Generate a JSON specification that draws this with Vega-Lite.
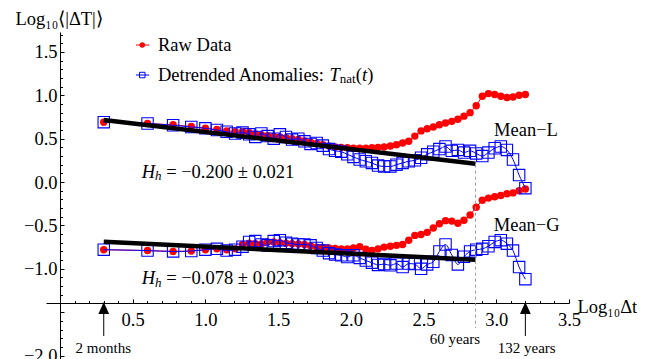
{
  "$schema": "https://vega.github.io/schema/vega-lite/v6.json",
  "width": 523,
  "height": 327,
  "autosize": {"type": "none"},
  "padding": {"left": 46, "top": 32, "right": 79, "bottom": 0},
  "background": "white",
  "config": {
    "view": {"stroke": null},
    "axis": {"labelFont": "Liberation Serif", "titleFont": "Liberation Serif", "labelFontSize": 18.5, "titleFontSize": 18.5, "titleFontWeight": "normal", "labelColor": "black", "titleColor": "black", "domainColor": "black", "tickColor": "black", "grid": false, "labelFlush": false, "labelOverlap": false, "domainWidth": 1, "tickWidth": 1},
    "text": {"font": "Liberation Serif"}
  },
  "datasets": {
    "raw": [
      {"x":0.301,"y":0.69,"c":"L"},{"x":0.602,"y":0.675,"c":"L"},{"x":0.778,"y":0.66,"c":"L"},{"x":0.903,"y":0.64,"c":"L"},{"x":1.0,"y":0.62,"c":"L"},{"x":1.079,"y":0.605,"c":"L"},{"x":1.146,"y":0.59,"c":"L"},{"x":1.204,"y":0.58,"c":"L"},{"x":1.255,"y":0.58,"c":"L"},{"x":1.301,"y":0.57,"c":"L"},{"x":1.343,"y":0.555,"c":"L"},{"x":1.385,"y":0.545,"c":"L"},{"x":1.428,"y":0.535,"c":"L"},{"x":1.47,"y":0.525,"c":"L"},{"x":1.512,"y":0.52,"c":"L"},{"x":1.554,"y":0.51,"c":"L"},{"x":1.596,"y":0.5,"c":"L"},{"x":1.639,"y":0.49,"c":"L"},{"x":1.681,"y":0.475,"c":"L"},{"x":1.723,"y":0.46,"c":"L"},{"x":1.765,"y":0.445,"c":"L"},{"x":1.807,"y":0.43,"c":"L"},{"x":1.85,"y":0.415,"c":"L"},{"x":1.892,"y":0.405,"c":"L"},{"x":1.934,"y":0.4,"c":"L"},{"x":1.976,"y":0.395,"c":"L"},{"x":2.018,"y":0.39,"c":"L"},{"x":2.061,"y":0.39,"c":"L"},{"x":2.103,"y":0.39,"c":"L"},{"x":2.145,"y":0.395,"c":"L"},{"x":2.187,"y":0.4,"c":"L"},{"x":2.229,"y":0.405,"c":"L"},{"x":2.272,"y":0.415,"c":"L"},{"x":2.314,"y":0.43,"c":"L"},{"x":2.356,"y":0.45,"c":"L"},{"x":2.398,"y":0.47,"c":"L"},{"x":2.44,"y":0.53,"c":"L"},{"x":2.483,"y":0.59,"c":"L"},{"x":2.525,"y":0.615,"c":"L"},{"x":2.567,"y":0.635,"c":"L"},{"x":2.609,"y":0.66,"c":"L"},{"x":2.651,"y":0.68,"c":"L"},{"x":2.694,"y":0.7,"c":"L"},{"x":2.736,"y":0.725,"c":"L"},{"x":2.778,"y":0.76,"c":"L"},{"x":2.82,"y":0.8,"c":"L"},{"x":2.862,"y":0.88,"c":"L"},{"x":2.904,"y":0.99,"c":"L"},{"x":2.946,"y":1.02,"c":"L"},{"x":2.989,"y":1.01,"c":"L"},{"x":3.031,"y":0.99,"c":"L"},{"x":3.073,"y":0.975,"c":"L"},{"x":3.115,"y":0.98,"c":"L"},{"x":3.157,"y":1.0,"c":"L"},{"x":3.2,"y":1.01,"c":"L"},
      {"x":0.301,"y":-0.78,"c":"G"},{"x":0.602,"y":-0.79,"c":"G"},{"x":0.778,"y":-0.8,"c":"G"},{"x":0.903,"y":-0.795,"c":"G"},{"x":1.0,"y":-0.78,"c":"G"},{"x":1.079,"y":-0.77,"c":"G"},{"x":1.146,"y":-0.78,"c":"G"},{"x":1.204,"y":-0.77,"c":"G"},{"x":1.255,"y":-0.72,"c":"G"},{"x":1.301,"y":-0.705,"c":"G"},{"x":1.343,"y":-0.71,"c":"G"},{"x":1.385,"y":-0.715,"c":"G"},{"x":1.428,"y":-0.69,"c":"G"},{"x":1.47,"y":-0.69,"c":"G"},{"x":1.512,"y":-0.7,"c":"G"},{"x":1.554,"y":-0.705,"c":"G"},{"x":1.596,"y":-0.71,"c":"G"},{"x":1.639,"y":-0.715,"c":"G"},{"x":1.681,"y":-0.72,"c":"G"},{"x":1.723,"y":-0.735,"c":"G"},{"x":1.765,"y":-0.75,"c":"G"},{"x":1.807,"y":-0.755,"c":"G"},{"x":1.85,"y":-0.76,"c":"G"},{"x":1.892,"y":-0.765,"c":"G"},{"x":1.934,"y":-0.77,"c":"G"},{"x":1.976,"y":-0.77,"c":"G"},{"x":2.018,"y":-0.76,"c":"G"},{"x":2.061,"y":-0.745,"c":"G"},{"x":2.103,"y":-0.775,"c":"G"},{"x":2.145,"y":-0.79,"c":"G"},{"x":2.187,"y":-0.77,"c":"G"},{"x":2.229,"y":-0.75,"c":"G"},{"x":2.272,"y":-0.74,"c":"G"},{"x":2.314,"y":-0.73,"c":"G"},{"x":2.356,"y":-0.72,"c":"G"},{"x":2.398,"y":-0.67,"c":"G"},{"x":2.44,"y":-0.615,"c":"G"},{"x":2.483,"y":-0.605,"c":"G"},{"x":2.525,"y":-0.58,"c":"G"},{"x":2.567,"y":-0.53,"c":"G"},{"x":2.609,"y":-0.48,"c":"G"},{"x":2.651,"y":-0.445,"c":"G"},{"x":2.694,"y":-0.45,"c":"G"},{"x":2.736,"y":-0.475,"c":"G"},{"x":2.778,"y":-0.44,"c":"G"},{"x":2.82,"y":-0.38,"c":"G"},{"x":2.862,"y":-0.29,"c":"G"},{"x":2.904,"y":-0.21,"c":"G"},{"x":2.946,"y":-0.185,"c":"G"},{"x":2.989,"y":-0.17,"c":"G"},{"x":3.031,"y":-0.155,"c":"G"},{"x":3.073,"y":-0.135,"c":"G"},{"x":3.115,"y":-0.125,"c":"G"},{"x":3.157,"y":-0.1,"c":"G"},{"x":3.2,"y":-0.08,"c":"G"}
    ],
    "det": [
      {"x":0.301,"y":0.69,"c":"L"},{"x":0.602,"y":0.675,"c":"L"},{"x":0.778,"y":0.655,"c":"L"},{"x":0.903,"y":0.635,"c":"L"},{"x":1.0,"y":0.62,"c":"L"},{"x":1.079,"y":0.6,"c":"L"},{"x":1.146,"y":0.58,"c":"L"},{"x":1.204,"y":0.56,"c":"L"},{"x":1.255,"y":0.57,"c":"L"},{"x":1.301,"y":0.55,"c":"L"},{"x":1.343,"y":0.52,"c":"L"},{"x":1.385,"y":0.56,"c":"L"},{"x":1.428,"y":0.53,"c":"L"},{"x":1.47,"y":0.5,"c":"L"},{"x":1.512,"y":0.55,"c":"L"},{"x":1.554,"y":0.52,"c":"L"},{"x":1.596,"y":0.49,"c":"L"},{"x":1.639,"y":0.5,"c":"L"},{"x":1.681,"y":0.47,"c":"L"},{"x":1.723,"y":0.44,"c":"L"},{"x":1.765,"y":0.45,"c":"L"},{"x":1.807,"y":0.42,"c":"L"},{"x":1.85,"y":0.38,"c":"L"},{"x":1.892,"y":0.36,"c":"L"},{"x":1.934,"y":0.35,"c":"L"},{"x":1.976,"y":0.32,"c":"L"},{"x":2.018,"y":0.29,"c":"L"},{"x":2.061,"y":0.26,"c":"L"},{"x":2.103,"y":0.24,"c":"L"},{"x":2.145,"y":0.22,"c":"L"},{"x":2.187,"y":0.19,"c":"L"},{"x":2.229,"y":0.18,"c":"L"},{"x":2.272,"y":0.18,"c":"L"},{"x":2.314,"y":0.2,"c":"L"},{"x":2.356,"y":0.22,"c":"L"},{"x":2.398,"y":0.24,"c":"L"},{"x":2.44,"y":0.25,"c":"L"},{"x":2.483,"y":0.28,"c":"L"},{"x":2.525,"y":0.32,"c":"L"},{"x":2.567,"y":0.35,"c":"L"},{"x":2.609,"y":0.38,"c":"L"},{"x":2.651,"y":0.41,"c":"L"},{"x":2.694,"y":0.36,"c":"L"},{"x":2.736,"y":0.37,"c":"L"},{"x":2.778,"y":0.34,"c":"L"},{"x":2.82,"y":0.36,"c":"L"},{"x":2.862,"y":0.33,"c":"L"},{"x":2.904,"y":0.3,"c":"L"},{"x":2.946,"y":0.34,"c":"L"},{"x":2.989,"y":0.39,"c":"L"},{"x":3.031,"y":0.41,"c":"L"},{"x":3.073,"y":0.37,"c":"L"},{"x":3.115,"y":0.26,"c":"L"},{"x":3.157,"y":0.08,"c":"L"},{"x":3.2,"y":-0.07,"c":"L"},
      {"x":0.301,"y":-0.78,"c":"G"},{"x":0.602,"y":-0.79,"c":"G"},{"x":0.778,"y":-0.8,"c":"G"},{"x":0.903,"y":-0.795,"c":"G"},{"x":1.0,"y":-0.78,"c":"G"},{"x":1.079,"y":-0.77,"c":"G"},{"x":1.146,"y":-0.79,"c":"G"},{"x":1.204,"y":-0.78,"c":"G"},{"x":1.255,"y":-0.745,"c":"G"},{"x":1.301,"y":-0.69,"c":"G"},{"x":1.343,"y":-0.68,"c":"G"},{"x":1.385,"y":-0.72,"c":"G"},{"x":1.428,"y":-0.73,"c":"G"},{"x":1.47,"y":-0.68,"c":"G"},{"x":1.512,"y":-0.67,"c":"G"},{"x":1.554,"y":-0.7,"c":"G"},{"x":1.596,"y":-0.71,"c":"G"},{"x":1.639,"y":-0.72,"c":"G"},{"x":1.681,"y":-0.72,"c":"G"},{"x":1.723,"y":-0.73,"c":"G"},{"x":1.765,"y":-0.76,"c":"G"},{"x":1.807,"y":-0.79,"c":"G"},{"x":1.85,"y":-0.82,"c":"G"},{"x":1.892,"y":-0.835,"c":"G"},{"x":1.934,"y":-0.845,"c":"G"},{"x":1.976,"y":-0.865,"c":"G"},{"x":2.018,"y":-0.845,"c":"G"},{"x":2.061,"y":-0.875,"c":"G"},{"x":2.103,"y":-0.905,"c":"G"},{"x":2.145,"y":-0.93,"c":"G"},{"x":2.187,"y":-0.955,"c":"G"},{"x":2.229,"y":-0.945,"c":"G"},{"x":2.272,"y":-0.96,"c":"G"},{"x":2.314,"y":-0.94,"c":"G"},{"x":2.356,"y":-0.98,"c":"G"},{"x":2.398,"y":-0.94,"c":"G"},{"x":2.44,"y":-0.945,"c":"G"},{"x":2.483,"y":-1.0,"c":"G"},{"x":2.525,"y":-0.95,"c":"G"},{"x":2.567,"y":-0.92,"c":"G"},{"x":2.609,"y":-0.8,"c":"G"},{"x":2.651,"y":-0.72,"c":"G"},{"x":2.694,"y":-0.84,"c":"G"},{"x":2.736,"y":-0.95,"c":"G"},{"x":2.778,"y":-0.86,"c":"G"},{"x":2.82,"y":-0.8,"c":"G"},{"x":2.862,"y":-0.78,"c":"G"},{"x":2.904,"y":-0.77,"c":"G"},{"x":2.946,"y":-0.74,"c":"G"},{"x":2.989,"y":-0.69,"c":"G"},{"x":3.031,"y":-0.67,"c":"G"},{"x":3.073,"y":-0.71,"c":"G"},{"x":3.115,"y":-0.79,"c":"G"},{"x":3.157,"y":-0.98,"c":"G"},{"x":3.2,"y":-1.12,"c":"G"}
    ],
    "fits": [
      {"x":0.301,"y":0.715,"c":"L"},{"x":2.857,"y":0.21,"c":"L"},
      {"x":0.301,"y":-0.688,"c":"G"},{"x":2.857,"y":-0.895,"c":"G"}
    ],
    "marker": [{"x":2.857,"y":0.2,"y2":-1.682}],
    "arrows": [
      {"x":0.301,"tip":-1.452,"y":-1.52,"y2":-1.775},
      {"x":3.2,"tip":-1.452,"y":-1.52,"y2":-1.775}
    ],
    "notes": [
      {"x":3.204,"y":0.6,"text":"Mean−L","role":"center"},
      {"x":3.209,"y":-0.495,"text":"Mean−G","role":"center"},
      {"x":0.562,"y":0.12,"text":"H","role":"italic"},
      {"x":0.653,"y":0.07,"text":"h","role":"subitalic"},
      {"x":0.73,"y":0.12,"text":"= −0.200 ± 0.021","role":"left"},
      {"x":0.562,"y":-1.11,"text":"H","role":"italic"},
      {"x":0.653,"y":-1.16,"text":"h","role":"subitalic"},
      {"x":0.73,"y":-1.11,"text":"= −0.078 ± 0.023","role":"left"},
      {"x":0.674,"y":1.58,"text":"Raw Data","role":"left"},
      {"x":0.674,"y":1.234,"text":"Detrended Anomalies:","role":"left"},
      {"x":1.854,"y":1.234,"text":"T","role":"italic"},
      {"x":1.924,"y":1.184,"text":"nat","role":"sub"},
      {"x":2.034,"y":1.234,"text":"(","role":"left"},
      {"x":2.076,"y":1.234,"text":"t","role":"italic"},
      {"x":2.112,"y":1.234,"text":")","role":"left"},
      {"x":0.298,"y":-1.913,"text":"2 months","role":"small"},
      {"x":2.716,"y":-1.809,"text":"60 years","role":"small"},
      {"x":3.209,"y":-1.913,"text":"132 years","role":"small"}
    ],
    "legend": [
      {"x":0.5225,"x2":0.614,"xm":0.566,"y":1.58,"s":"raw"},
      {"x":0.5225,"x2":0.614,"xm":0.566,"y":1.234,"s":"det"}
    ]
  },
  "resolve": {"axis": {"x": "independent", "y": "independent"}},
  "layer": [
    {
      "layer": [
        {
          "data": {"name": "raw"},
          "mark": {"type": "line", "color": "#ff0000", "strokeWidth": 1},
          "encoding": {
            "x": {"field": "x", "type": "quantitative", "scale": {"domain": [-0.096, 3.5], "nice": false, "zero": false},
              "axis": {"orient": "bottom", "offset": -56, "values": [0.5, 1, 1.5, 2, 2.5, 3, 3.5], "format": ".1f", "title": "Log₁₀Δt", "titleX": 531, "titleY": 3, "titleAlign": "left", "titleBaseline": "middle", "tickSize": -4, "labelPadding": 11}},
            "y": {"field": "y", "type": "quantitative", "scale": {"domain": [-2.04, 1.73], "nice": false, "zero": false},
              "axis": {"orient": "left", "offset": -14, "values": [-2, -1.5, -1, -0.5, 0, 0.5, 1, 1.5], "format": ".1f", "labelExpr": "datum.value == -1.5 ? '' : datum.label", "title": "Log₁₀⟨|ΔT|⟩", "titleAngle": 0, "titleX": -45, "titleY": -14, "titleAlign": "left", "titleBaseline": "middle", "tickSize": -4, "labelPadding": 7}},
            "detail": {"field": "c"}
          }
        },
        {
          "data": {"name": "raw"},
          "mark": {"type": "circle", "color": "#ff0000", "opacity": 1, "size": 55},
          "encoding": {"x": {"field": "x", "type": "quantitative"}, "y": {"field": "y", "type": "quantitative"}}
        },
        {
          "data": {"name": "det"},
          "mark": {"type": "line", "color": "#0000ff", "strokeWidth": 1, "interpolate": "monotone"},
          "encoding": {"x": {"field": "x", "type": "quantitative"}, "y": {"field": "y", "type": "quantitative"}, "detail": {"field": "c"}}
        },
        {
          "data": {"name": "det"},
          "mark": {"type": "point", "shape": "square", "filled": false, "color": "#0000ff", "strokeWidth": 1.1, "size": 130, "opacity": 1},
          "encoding": {"x": {"field": "x", "type": "quantitative"}, "y": {"field": "y", "type": "quantitative"}}
        },
        {
          "data": {"name": "fits"},
          "mark": {"type": "line", "color": "black", "strokeWidth": 4.5, "strokeCap": "butt"},
          "encoding": {"x": {"field": "x", "type": "quantitative"}, "y": {"field": "y", "type": "quantitative"}, "detail": {"field": "c"}}
        },
        {
          "data": {"name": "arrows"},
          "mark": {"type": "rule", "color": "black", "strokeWidth": 1},
          "encoding": {"x": {"field": "x", "type": "quantitative"}, "y": {"field": "y", "type": "quantitative"}, "y2": {"field": "y2"}}
        },
        {
          "data": {"name": "arrows"},
          "mark": {"type": "point", "shape": "M0,-1L0.9,1L-0.9,1Z", "filled": true, "color": "black", "opacity": 1, "size": 144, "strokeWidth": 0},
          "encoding": {"x": {"field": "x", "type": "quantitative"}, "y": {"field": "tip", "type": "quantitative"}}
        },
        {
          "data": {"name": "legend"},
          "transform": [{"filter": "datum.s == 'raw'"}],
          "mark": {"type": "rule", "color": "#ff0000", "strokeWidth": 1},
          "encoding": {"x": {"field": "x", "type": "quantitative"}, "x2": {"field": "x2"}, "y": {"field": "y", "type": "quantitative"}}
        },
        {
          "data": {"name": "legend"},
          "transform": [{"filter": "datum.s == 'det'"}],
          "mark": {"type": "rule", "color": "#0000ff", "strokeWidth": 1},
          "encoding": {"x": {"field": "x", "type": "quantitative"}, "x2": {"field": "x2"}, "y": {"field": "y", "type": "quantitative"}}
        },
        {
          "data": {"name": "legend"},
          "transform": [{"filter": "datum.s == 'raw'"}],
          "mark": {"type": "circle", "color": "#ff0000", "opacity": 1, "size": 30},
          "encoding": {"x": {"field": "xm", "type": "quantitative"}, "y": {"field": "y", "type": "quantitative"}}
        },
        {
          "data": {"name": "legend"},
          "transform": [{"filter": "datum.s == 'det'"}],
          "mark": {"type": "point", "shape": "square", "filled": false, "color": "#0000ff", "strokeWidth": 1, "size": 30, "opacity": 1},
          "encoding": {"x": {"field": "xm", "type": "quantitative"}, "y": {"field": "y", "type": "quantitative"}}
        },
        {
          "data": {"name": "notes"},
          "transform": [{"filter": "datum.role == 'center'"}],
          "mark": {"type": "text", "font": "Liberation Serif", "fontSize": 18.5, "align": "center", "baseline": "middle", "color": "black"},
          "encoding": {"x": {"field": "x", "type": "quantitative"}, "y": {"field": "y", "type": "quantitative"}, "text": {"field": "text"}}
        },
        {
          "data": {"name": "notes"},
          "transform": [{"filter": "datum.role == 'left'"}],
          "mark": {"type": "text", "font": "Liberation Serif", "fontSize": 18.5, "align": "left", "baseline": "middle", "color": "black"},
          "encoding": {"x": {"field": "x", "type": "quantitative"}, "y": {"field": "y", "type": "quantitative"}, "text": {"field": "text"}}
        },
        {
          "data": {"name": "notes"},
          "transform": [{"filter": "datum.role == 'italic'"}],
          "mark": {"type": "text", "font": "Liberation Serif", "fontSize": 18.5, "fontStyle": "italic", "align": "left", "baseline": "middle", "color": "black"},
          "encoding": {"x": {"field": "x", "type": "quantitative"}, "y": {"field": "y", "type": "quantitative"}, "text": {"field": "text"}}
        },
        {
          "data": {"name": "notes"},
          "transform": [{"filter": "datum.role == 'subitalic'"}],
          "mark": {"type": "text", "font": "Liberation Serif", "fontSize": 13, "fontStyle": "italic", "align": "left", "baseline": "middle", "color": "black"},
          "encoding": {"x": {"field": "x", "type": "quantitative"}, "y": {"field": "y", "type": "quantitative"}, "text": {"field": "text"}}
        },
        {
          "data": {"name": "notes"},
          "transform": [{"filter": "datum.role == 'sub'"}],
          "mark": {"type": "text", "font": "Liberation Serif", "fontSize": 13, "align": "left", "baseline": "middle", "color": "black"},
          "encoding": {"x": {"field": "x", "type": "quantitative"}, "y": {"field": "y", "type": "quantitative"}, "text": {"field": "text"}}
        },
        {
          "data": {"name": "notes"},
          "transform": [{"filter": "datum.role == 'small'"}],
          "mark": {"type": "text", "font": "Liberation Serif", "fontSize": 15, "align": "center", "baseline": "middle", "color": "black"},
          "encoding": {"x": {"field": "x", "type": "quantitative"}, "y": {"field": "y", "type": "quantitative"}, "text": {"field": "text"}}
        }
      ]
    },
    {
      "data": {"name": "marker"},
      "mark": {"type": "rule", "color": "#999999", "strokeWidth": 1, "strokeDash": [3, 3]},
      "encoding": {
        "x": {"field": "x", "type": "quantitative",
          "axis": {"orient": "bottom", "offset": -56, "values": [0.1,0.2,0.3,0.4,0.6,0.7,0.8,0.9,1.1,1.2,1.3,1.4,1.6,1.7,1.8,1.9,2.1,2.2,2.3,2.4,2.6,2.7,2.8,2.9,3.1,3.2,3.3,3.4], "labels": false, "domain": false, "title": null, "tickSize": -2.5}},
        "y": {"field": "y", "type": "quantitative",
          "axis": {"orient": "left", "offset": -14, "values": [-1.9,-1.8,-1.7,-1.6,-1.4,-1.3,-1.2,-1.1,-0.9,-0.8,-0.7,-0.6,-0.4,-0.3,-0.2,-0.1,0.1,0.2,0.3,0.4,0.6,0.7,0.8,0.9,1.1,1.2,1.3,1.4,1.6,1.7], "labels": false, "domain": false, "title": null, "tickSize": -2.5}},
        "y2": {"field": "y2"}
      }
    }
  ]
}
